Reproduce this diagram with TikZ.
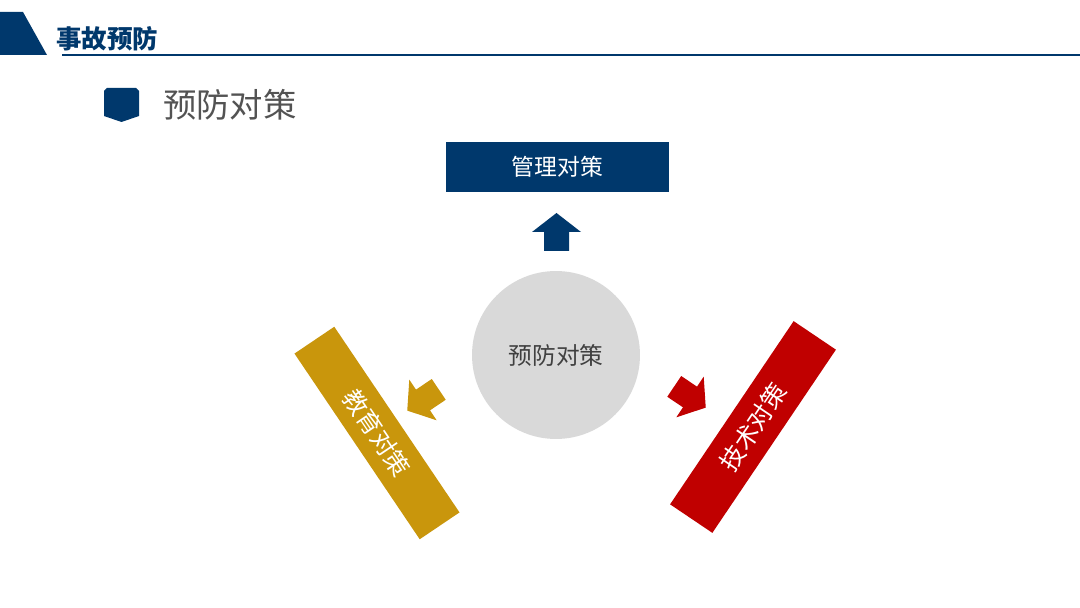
\documentclass[tikz,border=0pt]{standalone}
\usepackage{fontspec}
\usepackage{tikz}
\usepackage{xcolor}
\usetikzlibrary{calc}
\setmainfont{Noto Sans CJK SC}
\newfontfamily\cjk{Noto Sans CJK SC}

\definecolor{navy}{RGB}{0,56,108}
\definecolor{gold}{RGB}{201,150,12}
\definecolor{crimson}{RGB}{192,0,0}
\definecolor{circlegray}{RGB}{217,217,217}
\definecolor{textgray}{RGB}{64,64,64}

\tikzset{
  bar/.style={inner sep=0pt, text=white, font=\cjk\fontsize{14}{16}\selectfont},
  blockarrow/.pic={
    \fill[#1] (0,-19) -- (24.5,0) -- (12.5,0) -- (12.5,19)
      -- (-12.5,19) -- (-12.5,0) -- (-24.5,0) -- cycle;
  }
}

\begin{document}
\begin{tikzpicture}[x=0.02cm, y=-0.02cm]
    \useasboundingbox[fill=white] (0,0) rectangle (1080,608);

    % Header
    \fill[navy] (0,12) -- (23,12) -- (47,55) -- (0,55) -- cycle;
    \draw[navy, line width=1.1pt] (62,55) -- (1080,55);
    \node[anchor=west, text=navy, font=\cjk\bfseries\fontsize{14.5}{16}\selectfont] (title) at (50,39) {事故预防};

    % Subtitle with shield
    \fill[navy] (104,91) -- (107,88) -- (136,88) -- (139,91) -- (139,116) -- (121.5,122) -- (104,116) -- cycle;
    \node[anchor=west, text=textgray!90, font=\cjk\fontsize{19}{22}\selectfont] (subtitle) at (157,105) {预防对策};

    % Centre circle
    \node[circle, fill=circlegray, minimum size=3.36cm, text=textgray, font=\cjk\fontsize{13.5}{16}\selectfont] (centre) at (556,355) {预防对策};

    % Management box
    \node[fill=navy, minimum width=4.46cm, minimum height=1cm, text=white, font=\cjk\fontsize{13}{16}\selectfont] (manage) at (557.5,167) {管理对策};

    % Education bar
    \node[bar, fill=gold, minimum width=4.48cm, minimum height=0.96cm, rotate=-56] (educate) at (377,433) {教育对策};

    % Technology bar
    \node[bar, fill=crimson, minimum width=4.42cm, minimum height=1.02cm, rotate=56] (tech) at (753,427) {技术对策};

    % Block arrows
    \pic at (556.5,232) {blockarrow=navy};
    \pic[rotate=124] at (423,400) {blockarrow=gold};
    \pic[rotate=-124] at (690,397) {blockarrow=crimson};
\end{tikzpicture}
\end{document}
